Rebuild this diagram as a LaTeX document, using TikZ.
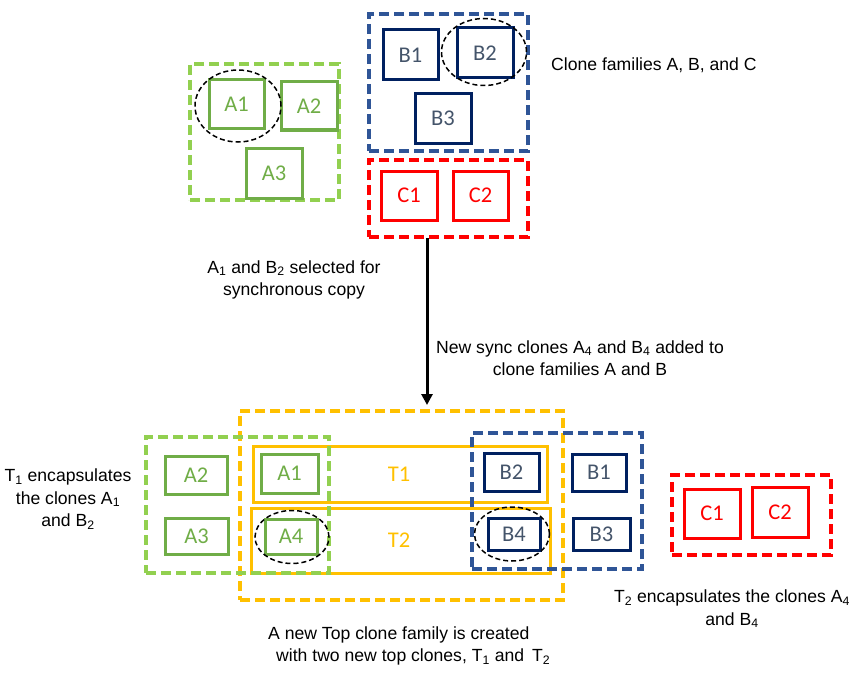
\documentclass[tikz,border=0pt]{standalone}
\usepackage{fontspec}
\setmainfont{Liberation Sans}
\newfontfamily\boxfont{Carlito}
\usetikzlibrary{shapes.geometric,arrows.meta}
\definecolor{lgreen}{HTML}{92D050}
\definecolor{dgreen}{HTML}{70AD47}
\definecolor{bdash}{HTML}{2F5597}
\definecolor{navy}{HTML}{002060}
\definecolor{btext}{HTML}{44546A}
\definecolor{cred}{HTML}{FF0000}
\definecolor{tyel}{HTML}{FFC000}
\tikzset{
  fam/.style={rectangle, line width=3.5pt, dash pattern=on 10pt off 5pt, inner sep=0pt},
  famA/.style={fam, draw=lgreen},
  famB/.style={fam, draw=bdash},
  famC/.style={fam, draw=cred},
  famT/.style={fam, draw=tyel},
  clbox/.style={rectangle, line width=3pt, inner sep=0pt, font=\boxfont\fontsize{22.5}{24}\selectfont},
  boxA/.style={clbox, draw=dgreen, text=dgreen},
  boxB/.style={clbox, draw=navy, text=btext},
  boxC/.style={clbox, draw=cred, text=cred},
  boxT/.style={clbox, draw=tyel, text=tyel},
  sel/.style={ellipse, draw=black, line width=1.5pt, dash pattern=on 5pt off 3pt, inner sep=0pt},
  note/.style={font=\fontsize{17.6}{22.5}\selectfont, inner sep=0pt, align=center},
}
\newcommand{\sbs}[1]{\textsubscript{#1}}
\begin{document}
\begin{tikzpicture}[x=1pt,y=-1pt]
\useasboundingbox (0,0) rectangle (864,674);
% ---------- top ----------
\node[famA, minimum width=149pt, minimum height=136pt] (gA) at (264.5,132) {};
\node[boxA, minimum width=55pt, minimum height=49pt] (A1t) at (236.5,104.5) {A1};
\node[boxA, minimum width=56pt, minimum height=48pt] (A2t) at (309,106) {A2};
\node[boxA, minimum width=56pt, minimum height=50pt] (A3t) at (274,173) {A3};
\node[sel, minimum width=86pt, minimum height=72pt] (ellA) at (238,106) {};

\node[famB, minimum width=159pt, minimum height=137pt] (bB) at (448.5,82.5) {};
\node[boxB, minimum width=55pt, minimum height=50pt] (B1t) at (410.5,55) {B1};
\node[boxB, minimum width=56pt, minimum height=50pt] (B2t) at (485,53) {B2};
\node[boxB, minimum width=56pt, minimum height=49pt] (B3t) at (443,118.5) {B3};
\node[sel, minimum width=85pt, minimum height=67pt] (ellB) at (484,52) {};

\node[famC, minimum width=159pt, minimum height=77pt] (rC) at (448.5,198.5) {};
\node[boxC, minimum width=56pt, minimum height=49pt] (C1t) at (409,195.5) {C1};
\node[boxC, minimum width=55pt, minimum height=49pt] (C2t) at (480.5,195.5) {C2};

\node[note, anchor=west] (lblfam) at (551,65) {Clone families A, B, and C};
\node[note] (lblsel) at (294,280) {A\sbs{1} and B\sbs{2} selected for\\synchronous copy};
\node[note] (lblnew) at (580,358) {New sync clones A\sbs{4} and B\sbs{4} added to\\clone families A and B};

\coordinate (arrS) at (427,238);
\coordinate (arrE) at (427,405);
\draw[line width=3pt, -{Triangle[length=11pt,width=11pt]}] (arrS) -- (arrE);

% ---------- bottom ----------
\node[famT, minimum width=323pt, minimum height=189pt] (yT) at (401.5,505.5) {};
\node[boxT, minimum width=294pt, minimum height=56pt] (T1) at (400,474) {};
\node[boxT, minimum width=299pt, minimum height=65pt] (T2) at (400.5,540.5) {};
\node[font=\boxfont\fontsize{22.5}{24}\selectfont, text=tyel] (T1l) at (399,474) {T1};
\node[font=\boxfont\fontsize{22.5}{24}\selectfont, text=tyel] (T2l) at (399,540) {T2};
\node[famA, minimum width=183pt, minimum height=136pt] (gA2) at (237.5,505) {};
\node[boxA, minimum width=62pt, minimum height=38pt] (A2b) at (196,475) {A2};
\node[boxA, minimum width=63pt, minimum height=36pt] (A3b) at (196.5,536) {A3};
\node[boxA, minimum width=57pt, minimum height=39pt] (A1b) at (289.5,473.5) {A1};
\node[boxA, minimum width=52pt, minimum height=35pt] (A4b) at (291,536.5) {A4};
\node[sel, minimum width=74pt, minimum height=53pt] (ellA4) at (292,537) {};

\node[famB, minimum width=170pt, minimum height=136pt] (bB2) at (557,501) {};
\node[boxB, minimum width=55pt, minimum height=38pt] (B2b) at (511.5,472) {B2};
\node[boxB, minimum width=54pt, minimum height=37pt] (B1b) at (599,472.5) {B1};
\node[boxB, minimum width=52pt, minimum height=32pt] (B4b) at (514,534) {B4};
\node[boxB, minimum width=57pt, minimum height=32pt] (B3b) at (601.5,534) {B3};
\node[sel, minimum width=75pt, minimum height=54pt] (ellB4) at (512,534) {};

\node[famC, minimum width=159pt, minimum height=80pt] (rC2) at (751.5,515) {};
\node[boxC, minimum width=56pt, minimum height=49pt] (C1b) at (712,513.5) {C1};
\node[boxC, minimum width=56pt, minimum height=50pt] (C2b) at (780,512) {C2};

\node[note] (lblT1) at (68,499) {T\sbs{1} encapsulates\\the clones A\sbs{1}\\and B\sbs{2}};
\node[note] (lblT2) at (732,609) {T\sbs{2} encapsulates the clones A\sbs{4}\\and B\sbs{4}};
\node[note, align=left, anchor=west] (lbltop) at (268,646) {A new Top clone family is created\\\hspace*{8pt}with two new top clones, T\sbs{1} and\, T\sbs{2}};
\end{tikzpicture}
\end{document}
